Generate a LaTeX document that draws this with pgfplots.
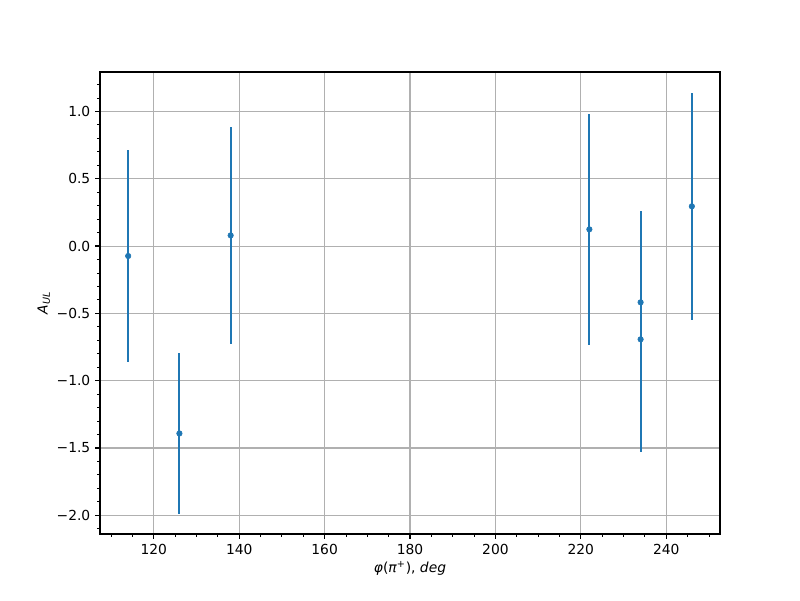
\documentclass[border=0pt]{standalone}
\usepackage{pgfplots}
\pgfplotsset{compat=1.18}
\usepackage{pgfplotstable}
\usepackage{fontspec}
\setmainfont{DejaVu Sans}
\definecolor{mplblue}{HTML}{1F77B4}
\definecolor{gridgray}{HTML}{B0B0B0}
\pgfplotstableread{
x y e
114 -0.074 0.786
126 -1.392 0.598
138 0.079 0.805
222 0.124 0.856
234 -0.418 0.678
234 -0.693 0.840
246 0.295 0.842
}\datatable
\begin{document}
\fontsize{10pt}{12pt}\selectfont
\begin{tikzpicture}
\begin{axis}[
  scale only axis,
  width=448.1pt, height=333.9pt,
  at={(0,0)}, anchor=south west,
  xmin=107.4, xmax=252.6,
  ymin=-2.139, ymax=1.293,
  axis line style={black, line width=0.8pt},
  xtick={120,140,160,180,200,220,240},
  xticklabels={120,140,160,180,200,220,240},
  ytick={-2,-1.5,-1,-0.5,0,0.5,1},
  yticklabels={−2.0,−1.5,−1.0,−0.5,0.0,0.5,1.0},
  minor xtick={110,115,125,130,135,145,150,155,165,170,175,185,190,195,205,210,215,225,230,235,245,250},
  minor ytick={-2.1,-1.9,-1.8,-1.7,-1.6,-1.4,-1.3,-1.2,-1.1,-0.9,-0.8,-0.7,-0.6,-0.4,-0.3,-0.2,-0.1,0.1,0.2,0.3,0.4,0.6,0.7,0.8,0.9,1.1,1.2},
  tick align=outside,
  xtick pos=bottom, ytick pos=left,
  major tick length=3.5pt, minor tick length=2pt,
  every tick/.style={black, line width=0.8pt},
  minor tick style={black, line width=0.6pt},
  xmajorgrids, ymajorgrids,
  major grid style={gridgray, line width=0.75pt},
  tick label style={font=\fontsize{10pt}{12pt}\selectfont},
  label style={font=\fontsize{10pt}{12pt}\selectfont},
  xlabel={\textit{φ}(\textit{π}\textsuperscript{+}), \textit{deg}},
  ylabel={\textit{A}\textsubscript{\textit{UL}}},
  xlabel style={yshift=2pt},
  ylabel style={yshift=-2pt},
]
\addplot[only marks, mark=*, mark size=2pt, color=mplblue,
  error bars/.cd, y dir=both, y explicit,
  error bar style={line width=1.5pt, mplblue},
  error mark=none]
  table[x=x, y=y, y error=e] {\datatable};
\end{axis}
\pgfresetboundingbox
\path[use as bounding box] (-72.27pt,-47.7pt) rectangle (505.9pt,385.93pt);
\end{tikzpicture}
\end{document}
